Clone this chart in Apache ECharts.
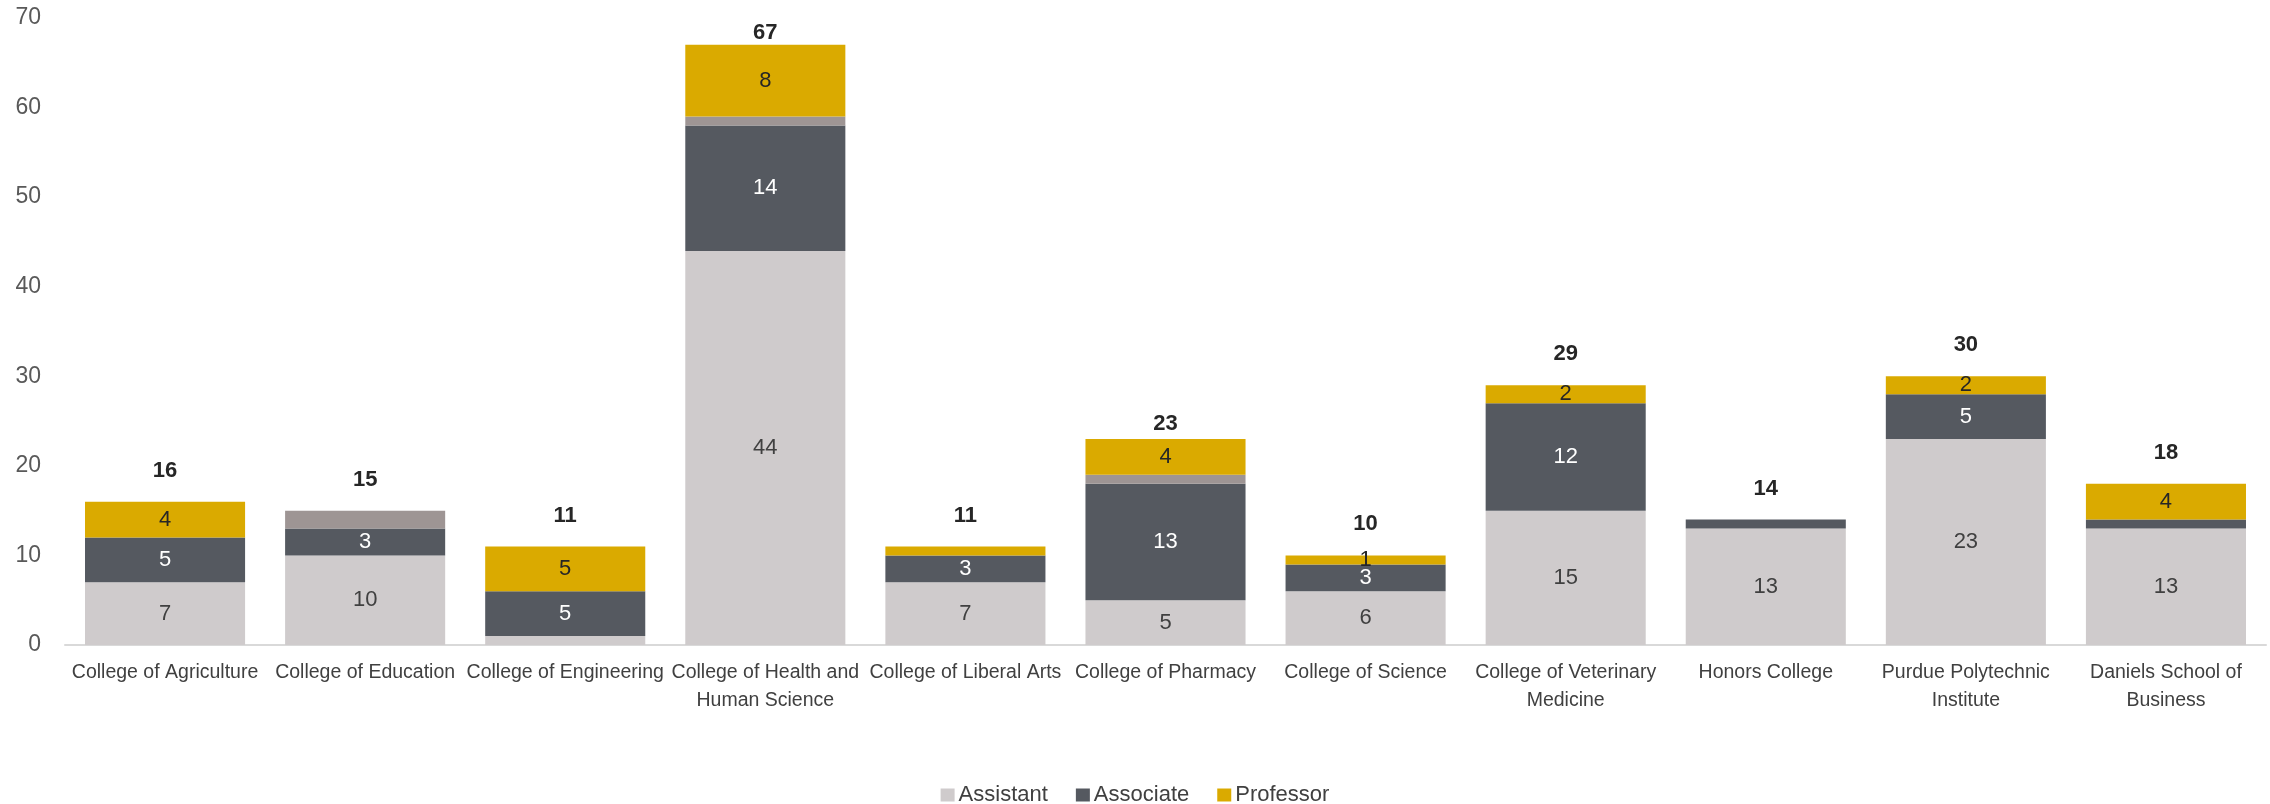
<!DOCTYPE html>
<html>
<head>
<meta charset="utf-8">
<script src="https://cdn.jsdelivr.net/npm/echarts@6/dist/echarts.min.js"></script>
<style>
html,body{margin:0;padding:0;background:#fff;}
#chart{width:2270px;height:804px;}
</style>
</head>
<body>
<div id="chart"></div>
<script>
const categories = [
  'College of Agriculture', 'College of Education', 'College of Engineering',
  'College of Health and\nHuman Science', 'College of Liberal Arts', 'College of Pharmacy',
  'College of Science', 'College of Veterinary\nMedicine', 'Honors College',
  'Purdue Polytechnic\nInstitute', 'Daniels School of\nBusiness'
];
const assistant = [7, 10, 1, 44, 7, 5, 6, 15, 13, 23, 13];
const associate = [5, 3, 5, 14, 3, 13, 3, 12, 1, 5, 1];
const other     = [0, 2, 0, 1, 0, 1, 0, 0, 0, 0, 0];
const professor = [4, 0, 5, 8, 1, 4, 1, 2, 0, 2, 4];
const totals    = [16, 15, 11, 67, 11, 23, 10, 29, 14, 30, 18];
// single-unit segments whose label is still printed in the source
const professorLabelOnOne = [6];
const yTicks = { min: 0, max: 70, interval: 10 };

// label placement styling (kept apart from the data)
const totalLabelDistance = 20;
const totalLabelDistanceOverride = { 3: 1, 5: 4 };

const FONT = "'Liberation Sans', Arial, sans-serif";

function items(values, minShown, extra) {
  return values.map((v, i) => ({
    value: v,
    label: { show: v >= minShown || (extra && extra.indexOf(i) >= 0 && v > 0) }
  }));
}

const totalItems = totals.map((v, i) => ({
  value: v,
  label: {
    distance: (i in totalLabelDistanceOverride) ? totalLabelDistanceOverride[i] : totalLabelDistance
  }
}));

const chart = echarts.init(document.getElementById('chart'), null, { renderer: 'canvas' });
chart.setOption({
  animation: false,
  backgroundColor: '#ffffff',
  textStyle: { fontFamily: FONT },
  grid: { left: 65, right: 4, top: 18, bottom: 159, containLabel: false },
  legend: {
    data: ['Assistant', 'Associate', 'Professor'],
    left: 'center',
    top: 779,
    icon: 'rect',
    itemWidth: 14,
    itemHeight: 13,
    itemGap: 28,
    textStyle: { fontSize: 22, color: '#404040', fontFamily: FONT, padding: [0, 0, 0, -1] }
  },
  xAxis: {
    type: 'category',
    data: categories,
    axisLine: { lineStyle: { color: '#d9d9d9', width: 2 } },
    axisTick: { show: false },
    axisLabel: {
      interval: 0,
      fontSize: 19.5,
      color: '#404040',
      lineHeight: 28,
      margin: 14,
      fontFamily: FONT
    }
  },
  yAxis: {
    type: 'value',
    min: yTicks.min,
    max: yTicks.max,
    interval: yTicks.interval,
    splitLine: { show: false },
    axisLine: { show: false },
    axisTick: { show: false },
    axisLabel: { fontSize: 23, color: '#595959', margin: 24, fontFamily: FONT }
  },
  series: [
    {
      name: 'Assistant', type: 'bar', stack: 'rank', barCategoryGap: '20%',
      data: items(assistant, 2),
      itemStyle: { color: '#cfcbcc' },
      label: { position: 'inside', fontSize: 22, color: '#404040', fontFamily: FONT }
    },
    {
      name: 'Associate', type: 'bar', stack: 'rank', barCategoryGap: '20%',
      data: items(associate, 2),
      itemStyle: { color: '#555960' },
      label: { position: 'inside', fontSize: 22, color: '#ffffff', fontFamily: FONT }
    },
    {
      name: 'Other', type: 'bar', stack: 'rank', barCategoryGap: '20%',
      data: other,
      itemStyle: { color: '#9e9594' },
      label: { show: false }
    },
    {
      name: 'Professor', type: 'bar', stack: 'rank', barCategoryGap: '20%',
      data: items(professor, 2, professorLabelOnOne),
      itemStyle: { color: '#daaa00' },
      label: { position: 'inside', fontSize: 22, color: '#262626', fontFamily: FONT }
    },
    {
      name: 'Total', type: 'bar', barGap: '-100%', barCategoryGap: '20%',
      data: totalItems,
      z: 0,
      silent: true,
      itemStyle: { color: 'rgba(0,0,0,0)' },
      label: {
        show: true, position: 'top', distance: totalLabelDistance,
        fontSize: 22, fontWeight: 'bold', color: '#262626', fontFamily: FONT
      }
    }
  ]
});
</script>
</body>
</html>
